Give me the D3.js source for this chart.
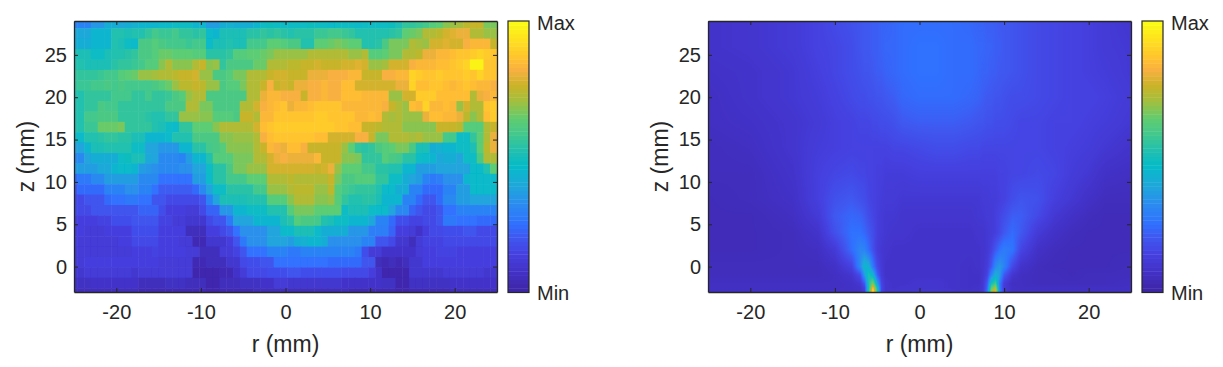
<!DOCTYPE html>
<html><head><meta charset="utf-8">
<script src="https://cdn.jsdelivr.net/npm/d3@7/dist/d3.min.js"></script>
<style>html,body{margin:0;padding:0;background:#fff}svg{display:block}text{font-family:"Liberation Sans",Arial,sans-serif;fill:#262626}</style>
</head><body><svg id="c" width="1223" height="367"></svg>
<script>
// colormap stops (position on the colorbar, colour)
const cmapPos=[0,1.5,7.4,13.6,20,24.7,32,38.4,46.8,52,58,64.2,70.5,76.4,82.6,86.3,93.7,100];
const cmapCol=["#3e26a8","#3f28ae","#4232c8","#4540e0","#3f58f0","#3070ff","#2b8af0","#20a5dc","#05bcc8","#20bfb0","#40c890","#60cc70","#a0c040","#c8b428","#f8b040","#ffc030","#ffe020","#fafa14"];
const ticksR=[-20,-10,0,10,20], ticksZ=[0,5,10,15,20,25];
const rDomain=[-25,25], zDomain=[-3,29];
const panelsX=[[74,497],[708,1131]], barsX=[[508,529],[1142,1163]];

// left panel: coarse measured map, rows from top to bottom
const leftR=d3.range(63).map(i=>-25+0.8*i);
const leftZ=d3.range(27).map(i=>28.76-1.228*i);
const leftValues=[
[30,30,30,35,35,41,41,40,42,43,45,45,44,46,46,47,48,47,45,44,37,36,42,43,42,41,42,44,48,49,48,47,47,48,47,49,48,47,46,47,48,47,46,47,48,48,47,49,50,56,56,57,58,62,63,68,70,71,74,75,75,66,66],
[40,40,40,45,45,45,52,52,50,52,53,56,58,57,57,58,55,55,54,55,46,45,50,51,50,50,54,54,55,54,55,54,53,54,54,54,57,57,58,58,57,56,52,53,52,53,52,54,55,63,65,66,72,73,74,78,79,80,80,72,72,70,70],
[42,42,42,44,44,44,52,50,48,46,60,60,61,60,59,58,58,57,58,58,46,50,51,52,51,50,58,58,58,63,63,62,60,60,53,53,63,64,65,66,65,64,63,53,53,54,60,66,66,66,72,71,70,78,78,79,78,78,82,83,83,84,75],
[50,50,50,47,47,50,52,53,54,55,60,60,61,65,65,64,63,63,62,62,54,54,54,55,62,62,63,63,65,66,70,70,70,70,70,72,72,73,72,72,72,70,70,72,62,62,63,66,66,73,73,74,80,80,84,84,85,86,87,88,90,88,87],
[52,52,50,50,50,50,54,55,56,57,58,62,62,68,72,68,68,68,72,75,68,70,56,60,60,60,60,65,65,72,72,73,74,74,76,76,77,76,76,76,78,78,79,78,70,70,71,77,77,78,82,83,84,84,85,85,86,89,90,98,98,87,87],
[55,55,56,56,57,58,58,62,63,65,70,70,71,73,73,74,76,76,77,70,70,60,60,61,66,66,72,73,73,75,77,78,76,76,76,80,80,81,82,82,82,84,84,76,76,76,82,82,83,84,90,88,87,87,88,87,87,87,88,87,90,86,86],
[56,57,57,58,58,60,59,60,58,58,58,58,60,62,65,70,74,74,75,74,70,70,60,61,62,66,72,72,76,82,76,78,76,80,80,82,82,83,82,82,85,85,77,77,78,77,78,77,80,80,90,85,85,86,86,85,84,85,86,85,84,83,82],
[53,53,56,56,56,56,58,58,58,55,55,58,56,56,57,60,62,70,72,72,60,60,60,60,60,60,72,72,80,83,83,82,82,82,75,82,82,83,82,82,85,85,85,83,83,83,83,70,70,77,77,89,89,88,85,85,85,85,85,72,80,82,84],
[53,53,55,55,60,59,58,56,55,55,55,55,55,55,60,60,60,73,73,66,66,60,60,60,60,72,72,78,82,84,85,86,80,83,84,85,86,86,87,87,84,84,84,84,83,83,82,75,72,70,85,84,90,84,84,85,84,70,78,72,72,86,88],
[52,52,58,58,60,60,60,55,55,55,55,54,53,52,56,56,70,70,70,68,68,62,62,62,60,76,75,73,84,84,87,87,86,86,87,87,88,88,86,86,86,86,84,84,85,84,72,71,72,70,70,70,80,85,85,84,84,80,74,68,72,85,88],
[52,52,57,57,65,65,65,66,55,55,55,55,52,50,47,46,55,55,63,63,63,68,72,72,72,72,72,78,85,87,89,89,89,89,89,89,88,88,88,86,86,85,85,76,76,74,72,72,72,68,68,68,68,68,75,75,75,74,62,62,62,72,76],
[48,46,52,53,54,55,55,54,54,50,50,45,44,45,46,52,52,53,60,60,60,60,68,68,70,70,70,72,82,85,86,87,87,87,86,86,85,85,77,77,77,77,82,82,76,66,66,72,72,72,71,72,70,70,70,58,58,48,48,55,64,72,80],
[38,38,44,50,50,52,52,52,52,48,48,38,38,35,35,35,44,44,54,54,58,60,62,68,68,68,68,72,76,84,82,80,85,85,82,76,76,76,75,75,70,64,55,54,56,60,62,64,66,66,60,50,50,42,43,45,44,48,48,50,64,74,80],
[32,32,38,42,42,42,42,48,49,50,50,40,38,32,32,32,30,36,45,45,52,62,62,62,66,66,66,72,72,78,80,82,80,80,80,80,84,75,75,75,68,68,67,55,55,56,62,60,58,54,54,48,46,44,40,42,42,38,48,48,60,72,72],
[36,36,36,36,40,40,45,46,46,45,36,35,34,32,32,32,34,34,38,38,48,54,54,60,66,66,70,70,70,78,78,78,78,78,78,78,76,78,80,70,63,63,64,58,58,54,54,52,52,45,45,37,37,36,38,38,38,38,38,46,46,52,64],
[24,28,28,32,32,37,37,37,37,37,32,32,32,26,26,26,26,26,36,36,46,54,54,58,58,58,64,64,64,72,72,72,74,72,72,72,72,72,76,66,60,60,61,62,62,56,56,48,48,42,38,36,30,28,29,34,34,34,44,46,46,46,46],
[20,24,24,24,24,30,30,30,34,34,30,30,26,21,21,21,21,21,24,32,38,47,47,54,54,54,54,58,58,70,70,70,72,74,74,74,70,70,74,62,58,57,56,55,55,52,46,46,42,42,30,30,24,24,24,30,30,36,36,46,46,46,46],
[17,17,20,20,20,24,25,26,28,27,26,26,20,20,17,17,17,17,17,20,30,38,50,50,50,50,53,53,53,62,62,62,68,72,72,72,68,68,70,62,55,52,52,54,54,50,44,44,44,30,30,24,20,20,24,32,32,36,36,38,38,38,38],
[17,16,16,19,19,19,20,20,20,20,22,22,22,18,14,14,14,12,12,16,22,22,35,35,45,45,48,48,48,52,52,52,62,66,66,66,64,64,64,64,48,50,50,50,48,46,46,38,32,32,22,20,17,17,20,26,26,30,30,30,30,30,30],
[14,14,14,14,15,15,18,18,18,19,19,19,19,15,15,12,12,10,10,10,17,20,20,28,38,38,38,44,44,44,44,50,54,62,60,60,58,52,50,48,48,44,44,44,40,30,30,24,18,18,15,15,17,17,20,27,27,26,26,26,24,24,24],
[13,13,12,12,12,14,14,14,14,18,18,18,18,13,13,13,13,6,6,6,14,14,17,19,25,34,34,34,34,38,38,46,46,50,50,50,46,42,42,42,42,35,35,35,29,29,29,22,14,14,11,9,14,17,17,18,18,18,20,20,17,17,17],
[13,12,12,12,12,11,11,13,13,17,17,17,17,14,14,14,12,12,4,4,10,10,10,14,20,27,34,34,34,38,38,38,36,42,43,44,44,42,34,34,34,34,34,30,30,20,20,17,10,10,5,11,15,15,15,17,17,17,17,16,16,16,16],
[12,12,12,12,12,12,12,12,12,14,14,14,15,13,13,13,13,11,11,5,5,5,11,11,15,20,25,25,25,30,30,30,28,28,31,31,31,31,31,30,30,30,27,18,12,12,9,9,9,9,9,11,13,13,15,15,15,14,14,14,14,13,13],
[11,11,13,13,13,13,13,13,13,13,13,13,13,12,12,12,12,11,4,4,5,5,5,10,10,17,18,18,20,20,25,25,26,26,26,26,26,26,24,24,24,24,24,20,20,5,4,5,4,5,10,10,13,13,13,13,13,13,13,13,13,13,13],
[10,10,12,12,12,12,12,12,12,10,11,11,11,11,11,11,11,11,3,3,3,3,4,4,9,12,16,16,16,18,18,18,19,19,18,18,18,18,18,18,17,17,17,17,14,9,3,3,3,3,10,10,10,10,10,12,12,12,12,12,12,10,10],
[7,7,7,8,8,8,8,8,8,8,6,6,6,6,7,7,7,6,6,6,2,2,6,6,6,7,7,7,8,8,11,11,10,10,10,10,10,10,10,10,8,8,8,8,8,8,7,7,3,3,7,7,7,7,7,7,8,8,8,8,8,8,8],
[5,5,5,5,5,5,5,5,5,5,4,4,4,4,4,4,4,4,4,4,3,3,4,4,4,4,4,5,5,5,5,5,5,5,5,5,5,5,5,5,5,4,4,4,4,4,4,4,3,3,4,4,4,4,4,4,5,5,5,5,5,5,5]
];

// right panel: values read at a grid that is finer around the two jets
const rightR=[-25,-20,-15,-12,-10,-8,-7,-6.5,-6,-5.5,-5,-4.5,-4,-3,-2,0,2,4,6,7,7.5,8,8.5,9,9.5,10,11,12,14,16,18,20,22,25];
const rightZ=[29,26,23,20,17,14,11,8,6,4,2,0,-1,-2,-2.5,-3];
const rightValues=[
[8,9,11,14,16,18,19,20,20,21,21,22,22,23,24,24,24,24,23,22,22,21,21,21,20,20,19,18,16,15,14,13,11,9],
[8,9,11,14,15,17,19,20,20,21,21,22,23,23,24,25,25,24,24,23,23,22,22,21,21,20,19,18,16,15,14,13,11,10],
[7,8,10,13,15,17,18,19,19,20,21,21,22,23,24,25,25,24,24,23,22,22,21,21,20,20,19,18,16,15,14,13,12,10],
[6,8,10,12,14,16,17,17,18,18,19,19,20,21,23,24,24,24,23,22,21,20,20,19,19,18,17,17,16,15,14,14,13,11],
[6,7,9,11,13,14,15,15,15,16,16,17,17,18,20,21,21,21,20,19,19,18,18,17,17,17,16,15,15,14,14,13,12,10],
[5,6,9,12,13,14,14,14,14,14,14,14,14,15,15,16,17,17,16,16,15,15,15,15,15,15,15,15,15,14,13,12,10,8],
[5,5,8,13,15,16,15,15,14,14,13,13,12,12,12,13,13,13,13,13,13,13,13,13,14,14,15,15,16,15,12,10,7,6],
[4,5,7,13,18,20,18,17,15,14,13,12,11,11,10,10,10,10,10,10,11,11,12,12,13,14,17,19,18,13,10,7,5,5],
[4,4,6,11,20,23,22,20,17,15,13,11,10,10,9,9,9,9,9,10,10,11,11,13,15,17,21,21,16,10,7,5,4,4],
[4,4,5,8,18,25,25,23,20,17,13,11,10,9,9,8,8,8,8,9,9,10,11,13,16,20,24,20,11,7,5,4,4,4],
[4,4,5,6,11,24,31,30,24,18,12,10,9,8,8,8,8,8,8,8,9,10,14,20,25,28,26,15,7,5,4,4,4,4],
[5,5,5,5,7,14,32,45,42,27,16,11,8,8,8,8,8,8,7,8,9,12,20,32,36,30,16,8,5,4,4,4,4,5],
[5,5,5,5,6,9,17,36,52,44,22,12,8,8,8,8,8,8,7,7,9,14,30,42,36,20,9,6,5,5,4,5,5,5],
[6,6,6,6,6,7,10,20,52,68,38,15,9,8,8,9,9,8,7,7,10,20,50,58,28,12,6,6,5,5,5,5,5,6],
[6,6,6,6,6,7,8,14,50,85,50,16,9,8,9,9,9,8,7,8,10,22,62,72,28,11,7,6,6,6,6,6,6,6],
[7,7,7,7,7,7,8,12,55,97,55,15,9,9,9,10,10,9,8,8,11,26,70,82,30,12,7,7,7,7,7,7,7,7]
];

const svg=d3.select("#c");
const cmap=d3.scaleLinear().domain(cmapPos).range(cmapCol).interpolate(d3.interpolateRgb).clamp(true);
const levels=d3.range(64).map(i=>cmap(i/63*100));
const band=d3.scaleQuantize().domain([0,100]).range(levels);
const defs=svg.append("defs");
const fontStack='"Liberation Sans",Arial,sans-serif';

function frame(i,x,y){
  const g=svg.append("g").attr("class","axes");
  const col="#262626";
  const style=s=>{s.selectAll("path").attr("stroke",col).attr("stroke-width",1.3);
    s.selectAll("line").attr("stroke",col).attr("stroke-width",1);
    s.selectAll("text").attr("font-size",20).attr("fill",col).style("font-family",fontStack);};
  g.append("g").attr("transform",`translate(0,${y.range()[0]})`)
    .call(d3.axisBottom(x).tickValues(ticksR).tickFormat(d=>String(d)).tickSizeInner(-4).tickSizeOuter(0).tickPadding(13)).call(style);
  g.append("g").attr("transform",`translate(0,${y.range()[1]})`)
    .call(d3.axisTop(x).tickValues(ticksR).tickFormat("").tickSizeInner(-4).tickSizeOuter(0)).call(style);
  g.append("g").attr("transform",`translate(${x.range()[0]},0)`)
    .call(d3.axisLeft(y).tickValues(ticksZ).tickFormat(d=>String(d)).tickSizeInner(-4).tickSizeOuter(0).tickPadding(7)).call(style);
  g.append("g").attr("transform",`translate(${x.range()[1]},0)`)
    .call(d3.axisRight(y).tickValues(ticksZ).tickFormat("").tickSizeInner(-4).tickSizeOuter(0)).call(style);
  const cx=(x.range()[0]+x.range()[1])/2;
  svg.append("text").attr("x",cx).attr("y",352).attr("text-anchor","middle").attr("font-size",23).text("r (mm)");
  svg.append("text").attr("transform",`translate(${x.range()[0]-40},156.5) rotate(-90)`).attr("text-anchor","middle").attr("font-size",23).text("z (mm)");
}
function colorbar(i){
  const [x0,x1]=barsX[i];
  const yb=d3.scaleBand().domain(d3.range(64)).range([292.5,21]).paddingInner(0);
  const g=svg.append("g").attr("class","colorbar");
  g.selectAll("rect").data(levels).join("rect").attr("x",x0).attr("width",x1-x0)
    .attr("y",(d,k)=>yb(k)).attr("height",yb.bandwidth()+0.4).attr("fill",d=>d);
  g.append("rect").attr("x",x0).attr("y",21).attr("width",x1-x0).attr("height",271.5).attr("fill","none").attr("stroke","#262626").attr("stroke-width",1.2);
  svg.append("text").attr("x",x1+8).attr("y",30).attr("font-size",20).text("Max");
  svg.append("text").attr("x",x1+8).attr("y",300).attr("font-size",20).text("Min");
}

// left heatmap as cells
{
  const x=d3.scaleLinear().domain(rDomain).range(panelsX[0]);
  const y=d3.scaleLinear().domain(zDomain).range([292,21]);
  defs.append("clipPath").attr("id","clipL").append("rect").attr("x",74).attr("y",21).attr("width",423).attr("height",271);
  const f=defs.append("filter").attr("id","soft").attr("filterUnits","userSpaceOnUse")
    .attr("x",60).attr("y",10).attr("width",450).attr("height",300);
  f.append("feGaussianBlur").attr("stdDeviation",0.7);
  const cw=x(0.8)-x(0), ch=y(0)-y(1.228), last=leftR[leftR.length-1];
  const g=svg.append("g").attr("clip-path","url(#clipL)").append("g").attr("filter","url(#soft)");
  const cells=[]; leftValues.forEach((row,j)=>row.forEach((v,k)=>cells.push({r:leftR[k],z:leftZ[j],v})));
  g.selectAll("rect").data(cells).join("rect")
    .attr("x",d=>x(d.r)-cw/2).attr("y",d=>y(d.z)-ch/2)
    .attr("width",d=>d.r===last?cw+6:cw+0.5).attr("height",ch+0.5).attr("fill",d=>band(d.v));
  frame(0,x,y); colorbar(0);
}
// right heatmap: shaded image from the value grid
{
  const x=d3.scaleLinear().domain(rDomain).range(panelsX[1]);
  const y=d3.scaleLinear().domain(zDomain).range([292,21]);
  const W=423,H=271;
  const cv=document.createElement("canvas"); cv.width=W; cv.height=H;
  const ctx=cv.getContext("2d"); const im=ctx.createImageData(W,H);
  const ri=d3.scaleLinear().domain(rightR).range(d3.range(rightR.length)).clamp(true);
  const zi=d3.scaleLinear().domain(rightZ).range(d3.range(rightZ.length)).clamp(true);
  for(let py=0;py<H;py++){
    const fz=zi(y.invert(21+py+0.5)); const j0=Math.min(Math.floor(fz),rightZ.length-2), tz=fz-j0;
    for(let px=0;px<W;px++){
      const fr=ri(x.invert(708+px+0.5)); const k0=Math.min(Math.floor(fr),rightR.length-2), tr=fr-k0;
      const v=(rightValues[j0][k0]*(1-tr)+rightValues[j0][k0+1]*tr)*(1-tz)+(rightValues[j0+1][k0]*(1-tr)+rightValues[j0+1][k0+1]*tr)*tz;
      const c=d3.rgb(cmap(v)); const o=(py*W+px)*4;
      im.data[o]=c.r; im.data[o+1]=c.g; im.data[o+2]=c.b; im.data[o+3]=255;
    }
  }
  ctx.putImageData(im,0,0);
  svg.append("image").attr("x",708).attr("y",21).attr("width",W).attr("height",H).attr("href",cv.toDataURL());
  frame(1,x,y); colorbar(1);
}
</script></body></html>
